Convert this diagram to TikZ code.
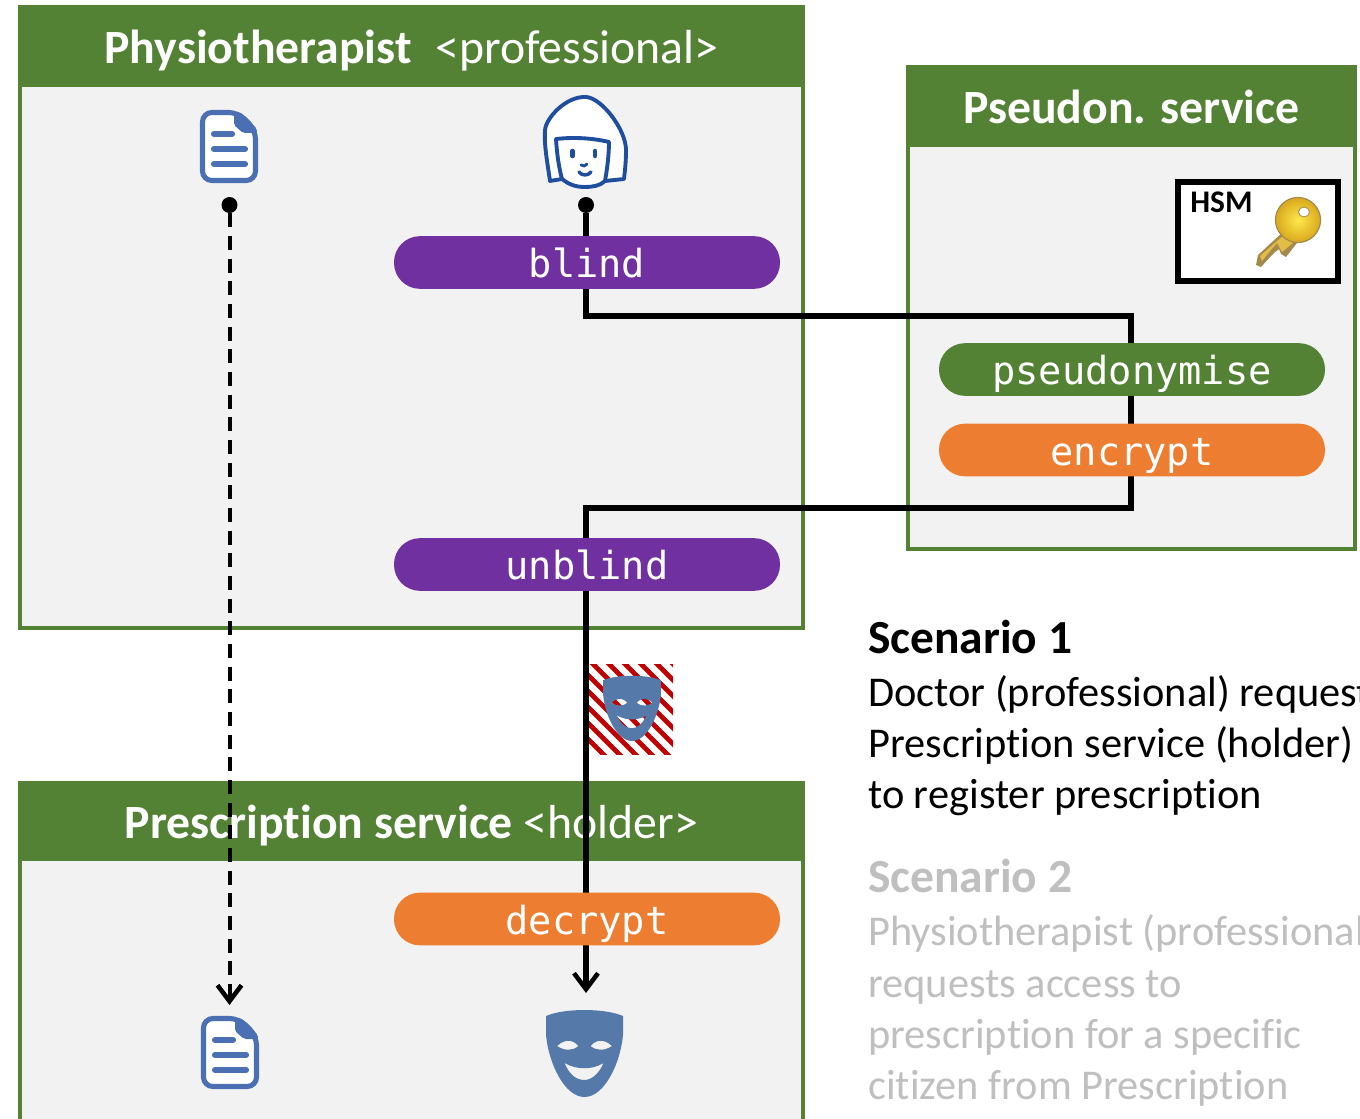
\documentclass[tikz,border=0pt]{standalone}
\usepackage{fontspec}
\setmainfont[Ligatures=CommonOff]{Carlito}
\setmonofont{DejaVu Sans Mono}
\usetikzlibrary{arrows.meta}
\definecolor{hdrgreen}{HTML}{548235}
\definecolor{bodygray}{HTML}{F2F2F2}
\definecolor{pillpurple}{HTML}{7030A0}
\definecolor{pillorange}{HTML}{ED7D31}
\definecolor{docblue}{HTML}{4A6FB3}
\definecolor{maskblue}{HTML}{5579A8}
\definecolor{faceblue}{HTML}{1F4E9E}
\definecolor{stripered}{HTML}{C00000}
\definecolor{fadedtext}{HTML}{BFBFBF}
\definecolor{keydark}{HTML}{A58A4E}
\definecolor{keygold}{HTML}{E2BC45}
\definecolor{keylight}{HTML}{FFE84A}
\definecolor{keyrim}{HTML}{D9A81E}
\tikzset{
  x=0.75pt,y=-0.75pt,
  panelbody/.style={draw=hdrgreen,fill=bodygray,line width=3pt,anchor=north west,inner sep=0pt,outer sep=0pt},
  panelhead/.style={draw=hdrgreen,fill=hdrgreen,line width=3pt,text=white,anchor=north west,inner sep=0pt,outer sep=0pt,align=center,
     font=\fontsize{35.8}{42}\selectfont,text height=35pt,text depth=9pt},
  pill/.style={rounded corners=19.5pt,minimum width=289.5pt,minimum height=39.5pt,inner sep=0pt,outer sep=0pt,text=white,
     font=\ttfamily\fontsize{29}{34}\selectfont,text height=29pt,text depth=6pt},
  flow/.style={draw=black,line width=3.9pt},
  flowtip/.style={-{Straight Barb[length=12pt,width=18pt,line width=3.4pt]}},
  dotend/.style={circle,fill=black,inner sep=0pt,minimum size=12pt},
  desc/.style={anchor=base west,inner sep=0pt,font=\fontsize{31.8}{38}\selectfont},
  doctitle/.style={desc,font=\bfseries\fontsize{35.6}{42}\selectfont},
  docicon/.pic={
    \draw[docblue,line width=3.8pt,fill=white,rounded corners=7pt,line join=round]
      (2.5,2.5) -- (38,2.5) -- (55.5,20) -- (55.5,70.5) -- (2.5,70.5) -- cycle;
    \fill[docblue,rounded corners=1.5pt] (34,2) -- (40,2) -- (57,19) -- (57,23) -- (43,23) -- (34,15) -- cycle;
    \draw[docblue,line width=4.6pt,line cap=round] (14,24) -- (32,24) (14,39) -- (45,39) (14,54) -- (45,54);
  },
  maskicon/.pic={
    \fill[maskblue,even odd rule]
      (-38.5,-37) .. controls (-20,-45) and (20,-45) .. (38.5,-37)
      -- (38.5,-18) .. controls (36,10) and (20,44) .. (0,44)
      .. controls (-20,44) and (-36,10) .. (-38.5,-18) -- cycle
      (-27.5,-7) .. controls (-20,-14) and (-12,-14) .. (-6,-7) .. controls (-12,-2) and (-20,-2) .. (-27.5,-7) -- cycle
      (27.5,-7) .. controls (20,-14) and (12,-14) .. (6,-7) .. controls (12,-2) and (20,-2) .. (27.5,-7) -- cycle
      (-20,10) .. controls (-8,17) and (8,17) .. (19,10) .. controls (14,22) and (6,27) .. (0,27) .. controls (-8,27) and (-15,22) .. (-20,10) -- cycle;
  }
}
\begin{document}
\begin{tikzpicture}
\useasboundingbox (0,0) rectangle (1360,1119);
\clip (0,0) rectangle (1360,1119);
\fill[white] (0,0) rectangle (1360,1119);

% panels
\node[panelbody,minimum width=587.25pt,minimum height=465.75pt] (physbody) at (20,7) {};
\node[panelhead,minimum width=587.25pt,minimum height=58.5pt] (physhead) at (20,7)
  {\textbf{Physiotherapist}\hspace{0.5em}<professional>};
\node[panelbody,minimum width=335.25pt,minimum height=361.5pt] (pseubody) at (908,67) {};
\node[panelhead,minimum width=335.25pt,minimum height=58.5pt] (pseuhead) at (908,67)
  {\textbf{Pseudon. service}};
\node[panelbody,minimum width=587.25pt,minimum height=300pt] (presbody) at (20,783) {};
\node[panelhead,minimum width=587.25pt,minimum height=57pt] (preshead) at (20,783)
  {\textbf{Prescription service} <holder>};

% HSM box
\node[draw=black,fill=white,line width=3.8pt,anchor=north west,inner sep=0pt,outer sep=0pt,minimum width=120pt,minimum height=74.25pt] (hsmbox) at (1178,182) {};
\node[anchor=base west,inner sep=0pt,font=\bfseries\fontsize{23.6}{28}\selectfont] (hsmlabel) at (1190,212.5) {HSM};
% key
\fill[keydark,line join=round] (1283,232) -- (1297,243) -- (1286,257) -- (1281,254) -- (1279,249) -- (1274,253) -- (1271,256) -- (1261,267) -- (1256,265) -- (1258,255) -- cycle;
\fill[keygold] (1284,235) -- (1293,243) -- (1282,252) -- (1277,243) -- (1270,251) -- (1262,261) -- (1260,256) -- cycle;
\shade[inner color=keylight,outer color=keyrim,draw=keydark,line width=0.9pt] (1298,220) circle[radius=22.5];
\fill[white,draw=keydark,line width=0.6pt] (1304,212) ellipse[x radius=5.5,y radius=5];

% icons
\pic (docA) at (200,110) {docicon};
\pic (docB) at (201,1016) {docicon};
\pic (maskB) at (584.5,1053) {maskicon};

% face
\begin{scope}[faceblue,line width=2.9pt,line join=round,line cap=round]
\draw[fill=white] (550,181) .. controls (547,160) and (544,145) .. (545,130)
  .. controls (546,118) and (566,96) .. (586,97)
  .. controls (602,98) and (626,130) .. (626,150)
  .. controls (626,162) and (625,170) .. (624,179)
  -- (605,181) .. controls (600,186) and (592,187) .. (585,187)
  .. controls (575,187) and (568,184) .. (562,179) -- cycle;
\draw (556,139) .. controls (574,137) and (592,138) .. (609,142);
\draw (556,139) .. controls (557,155) and (559,168) .. (562,179);
\draw (609,142) .. controls (609,155) and (607,170) .. (605,181);
\draw[line width=3.4pt] (572.5,151) -- (572.5,156) (595,151) -- (595,156);
\draw[line width=2.2pt] (581,165) .. controls (583,167) and (586,166) .. (587,164);
\draw[line width=2.6pt] (579,172) .. controls (582,176) and (588,176) .. (591,172);
\end{scope}

% small masked stripe patch
\begin{scope}
\clip (589,664) rectangle (673,754);
\fill[white] (589,664) rectangle (673,754);
\foreach \k in {-6,...,11}{
  \draw[stripered,line width=3.6pt] (589+\k*16,664-20) -- ++(130,130);
}
\end{scope}
\pic[scale=0.75] (maskA) at (632,708) {maskicon};

% connector anchors
\node[dotend] (dotA) at (229.5,205) {};
\node[dotend] (dotB) at (586,205) {};
\coordinate (tipA) at (229.5,1005);
\coordinate (tipB) at (586,993);
\coordinate (turnA) at (586,316);
\coordinate (turnB) at (1131,316);
\coordinate (turnC) at (1131,508);
\coordinate (turnD) at (586,508);

% connectors
\draw[flow,line width=3pt,dash pattern=on 10.5pt off 6.5pt,flowtip] (dotA) -- (tipA);
\draw[flow,flowtip] (dotB) -- (turnA) -- (turnB) -- (turnC) -- (turnD) -- (tipB);

% pills
\node[pill,fill=pillpurple] (blind) at (587,262.5) {blind};
\node[pill,fill=pillpurple] (unblind) at (587,564.5) {unblind};
\node[pill,fill=pillorange] (decrypt) at (587,919) {decrypt};
\node[pill,fill=hdrgreen] (pseudonymise) at (1132,369.5) {pseudonymise};
\node[pill,fill=pillorange] (encrypt) at (1132,450) {encrypt};

% description
\node[doctitle] (s1title) at (868,653.5) {Scenario 1};
\node[desc] (s1a) at (868,706) {Doctor (professional) requests};
\node[desc] (s1b) at (868,757) {Prescription service (holder)};
\node[desc] (s1c) at (868,808.5) {to register prescription};
\node[doctitle,text=fadedtext] (s2title) at (868,892.5) {Scenario 2};
\node[desc,text=fadedtext] (s2a) at (868,945) {Physiotherapist (professional)};
\node[desc,text=fadedtext] (s2b) at (868,997) {requests access to};
\node[desc,text=fadedtext] (s2c) at (868,1048) {prescription for a specific};
\node[desc,text=fadedtext] (s2d) at (868,1099.5) {citizen from Prescription};
\end{tikzpicture}
\end{document}
